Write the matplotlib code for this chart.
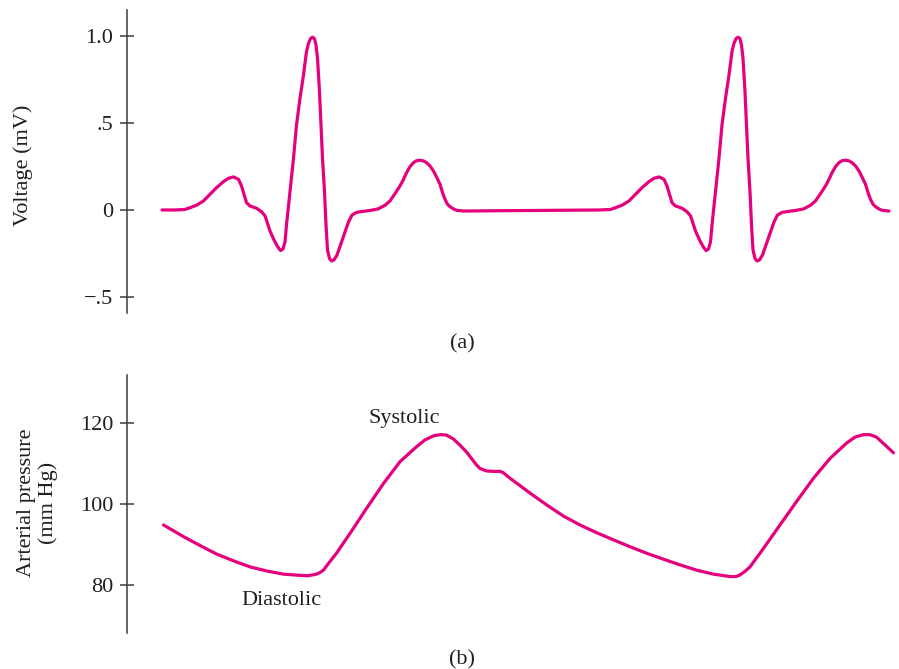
import matplotlib
matplotlib.use("Agg")
import numpy as np
import matplotlib.pyplot as plt

# ---- ECG: one cardiac cycle (time from cycle start in ms, voltage in mV) ----
ecg_cycle_ms = [
    0, 26, 46, 56, 69, 83, 96, 109, 123, 133,
    143, 153, 159, 164, 169, 176, 189, 199, 206, 208,
    216, 224, 231, 237, 242, 246, 249, 256, 263, 269,
    276, 283, 289, 293, 297, 301, 305, 308, 311, 315,
    318, 321, 325, 328, 331, 335, 339, 344, 350, 359,
    366, 373, 380, 389, 400, 416, 432, 446, 456, 466,
    476, 483, 489, 496, 503, 509, 516, 523, 529, 536,
    543, 549, 556, 561, 566, 571, 576, 583, 589, 603,
]
ecg_cycle_mv = [
    0.0, 0.0, 0.003, 0.013, 0.027, 0.052, 0.090, 0.128, 0.163, 0.182,
    0.190, 0.176, 0.138, 0.090, 0.042, 0.023, 0.010, -0.010, -0.034, -0.050,
    -0.121, -0.172, -0.210, -0.233, -0.224, -0.184, -0.086, 0.105, 0.297, 0.489,
    0.642, 0.776, 0.910, 0.958, 0.984, 0.993, 0.984, 0.948, 0.872, 0.680,
    0.489, 0.297, 0.105, -0.086, -0.230, -0.279, -0.293, -0.287, -0.259, -0.184,
    -0.126, -0.069, -0.029, -0.014, -0.009, -0.003, 0.006, 0.027, 0.052, 0.094,
    0.138, 0.176, 0.214, 0.249, 0.272, 0.283, 0.286, 0.282, 0.272, 0.253,
    0.224, 0.190, 0.148, 0.100, 0.061, 0.033, 0.019, 0.006, -0.002, -0.006,
]
# start time of each recorded beat (ms)
beat_onsets_ms = [0, 851]

# ---- Arterial pressure (time in ms, pressure in mm Hg) ----
pressure_ms = [
    3, 43, 76, 109, 143, 176, 209, 243, 276, 292,
    309, 316, 323, 332, 349, 376, 409, 443, 476, 509,
    526, 543, 550, 559, 569, 583, 596, 609, 629, 636,
    649, 662, 676, 682, 696, 736, 769, 803, 836, 869,
    903, 936, 969, 1003, 1036, 1069, 1103, 1120, 1136, 1148,
    1156, 1166, 1176, 1203, 1236, 1269, 1303, 1336, 1369, 1386,
    1403, 1416, 1429, 1463,
]
pressure_mmhg = [
    94.8, 91.9, 89.7, 87.6, 85.9, 84.4, 83.4, 82.6, 82.3, 82.2,
    82.6, 83.0, 83.6, 85.1, 87.8, 92.7, 98.9, 105.1, 110.5, 114.2,
    115.9, 116.9, 117.1, 117.2, 117.1, 116.1, 114.6, 112.9, 109.7, 108.8,
    108.2, 108.1, 108.1, 107.8, 106.4, 102.7, 99.8, 97.0, 94.8, 92.9,
    91.1, 89.4, 87.8, 86.3, 84.9, 83.6, 82.6, 82.3, 82.0, 82.0,
    82.4, 83.3, 84.4, 89.0, 94.8, 100.6, 106.4, 111.3, 115.1, 116.6,
    117.2, 117.2, 116.6, 112.7,
]

voltage_ticks = [1.0, 0.5, 0.0, -0.5]
voltage_tick_labels = ["1.0", ".5", "0", "\u2212.5"]
pressure_ticks = [80, 100, 120]
pressure_tick_labels = ["80", "100", "120"]

LINE = "#e5007d"
INK = "#231f20"
AXIS = "#3c3c3c"

plt.rcParams["font.family"] = ["Liberation Serif", "DejaVu Serif"]
plt.rcParams["text.color"] = INK

W, H = 899, 669
fig = plt.figure(figsize=(W / 100, H / 100), dpi=100)


def axes_px(left, top, right, bottom):
    return fig.add_axes([left / W, 1 - bottom / H, (right - left) / W, (bottom - top) / H])


ax_ecg = axes_px(127, 10, 895, 313)
ax_bp = axes_px(127, 375, 895, 633)

# ECG trace: the recorded cycle placed at each beat onset
ecg_t = np.concatenate([np.asarray(ecg_cycle_ms) + onset for onset in beat_onsets_ms])
ecg_v = np.concatenate([np.asarray(ecg_cycle_mv) for _ in beat_onsets_ms])
ax_ecg.plot(ecg_t, ecg_v, color=LINE, lw=2.3, solid_joinstyle="round", solid_capstyle="round")
ax_bp.plot(pressure_ms, pressure_mmhg, color=LINE, lw=2.3, solid_joinstyle="round",
           solid_capstyle="round")

ax_ecg.set_ylim(-0.592, 1.149)
ax_bp.set_ylim(68.0, 132.0)

for ax, ticks, labels in ((ax_ecg, voltage_ticks, voltage_tick_labels),
                          (ax_bp, pressure_ticks, pressure_tick_labels)):
    ax.set_xlim(-70, 1466)
    for side in ("top", "right", "bottom"):
        ax.spines[side].set_visible(False)
    ax.spines["left"].set_color(AXIS)
    ax.spines["left"].set_linewidth(1.1)
    ax.set_xticks([])
    ax.set_yticks(ticks)
    ax.set_yticklabels(labels)
    ax.tick_params(axis="y", direction="inout", length=10, width=1.1, color=AXIS,
                   pad=5, labelsize=16, labelcolor=INK)
    ax.patch.set_visible(False)

fig.text(23 / W, 1 - 165 / H, "Voltage (mV)", rotation=90, ha="center", va="center",
         fontsize=16)
fig.text(37.5 / W, 1 - 503 / H, "Arterial pressure\n(mm Hg)", rotation=90, ha="center",
         va="center", multialignment="center", linespacing=1.15, fontsize=16)

ax_bp.text(484, 120.1, "Systolic", ha="center", va="baseline", fontsize=16)
ax_bp.text(238, 74.9, "Diastolic", ha="center", va="baseline", fontsize=16)

fig.text(462 / W, 1 - 344 / H, "(a)", ha="center", va="center", fontsize=16)
fig.text(462 / W, 1 - 660 / H, "(b)", ha="center", va="center", fontsize=16)

fig.savefig("out.png", dpi=100)
